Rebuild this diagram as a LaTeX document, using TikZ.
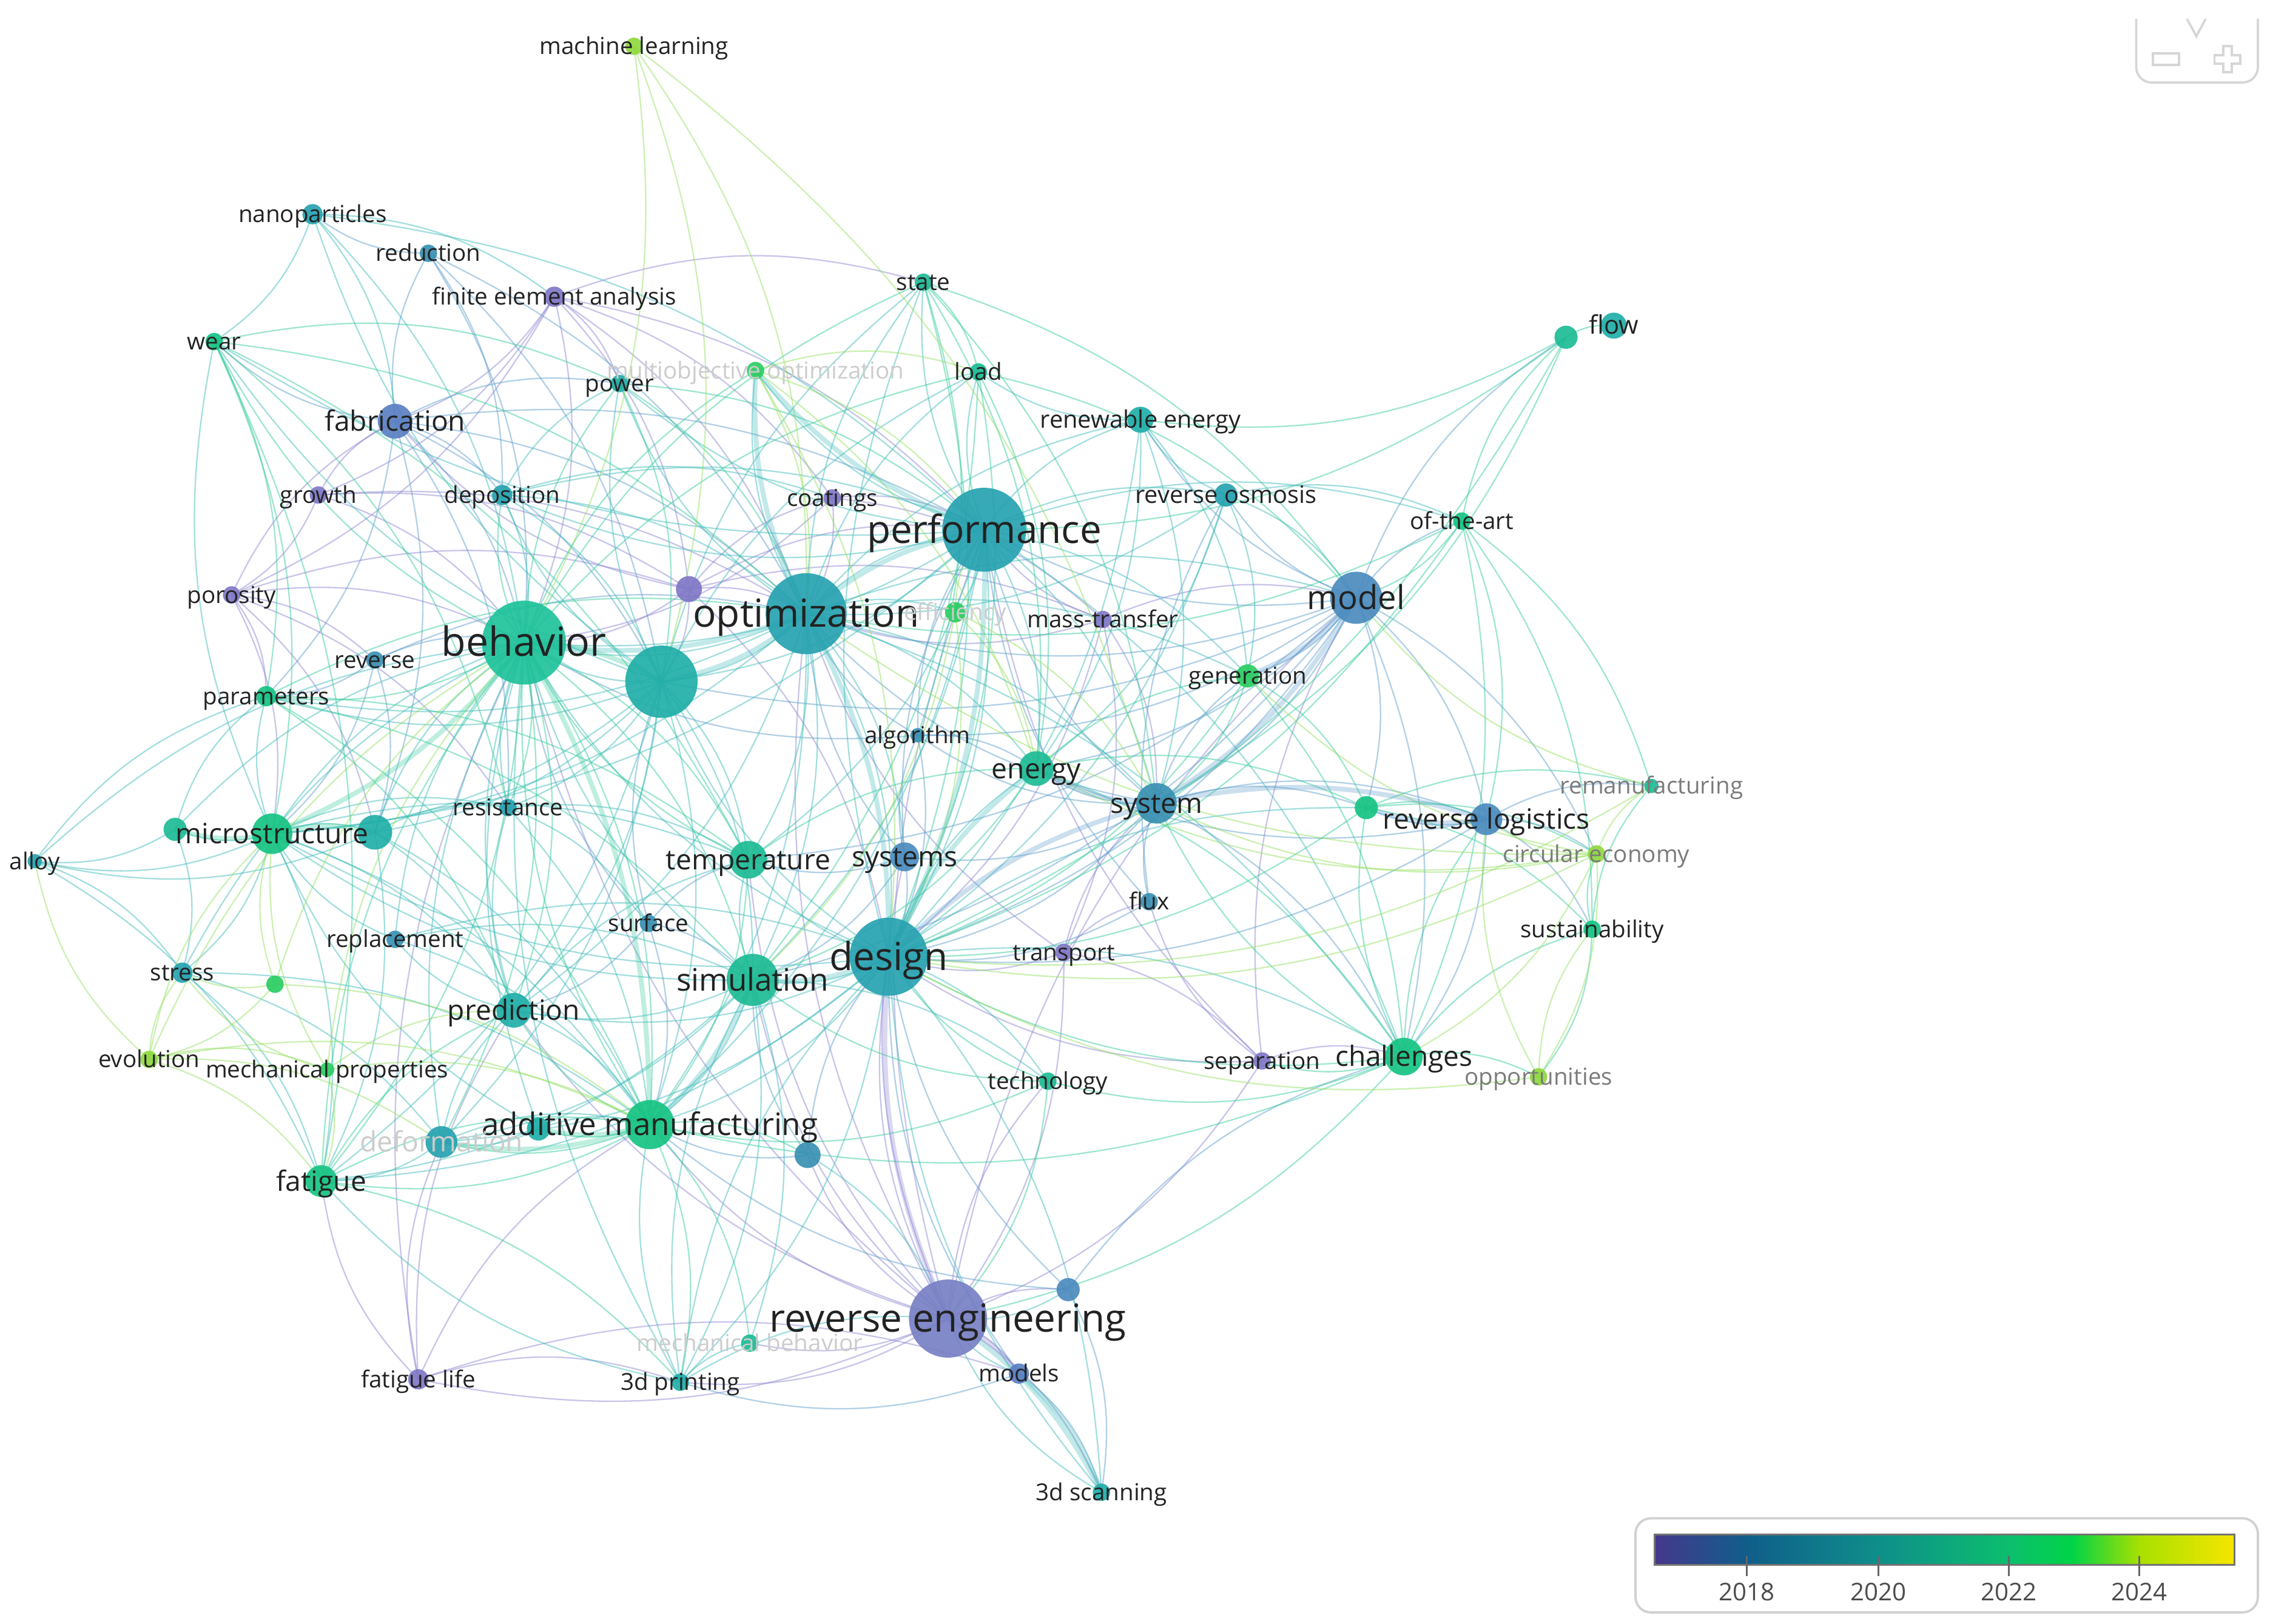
\documentclass[tikz,border=0pt]{standalone}
\usepackage{fontspec}
\setmainfont{Open Sans}
\definecolor{eP}{HTML}{8D86D2}
\definecolor{eB}{HTML}{5E9DCB}
\definecolor{eT}{HTML}{40BABA}
\definecolor{eG}{HTML}{34CB9C}
\definecolor{eL}{HTML}{95E060}
\definecolor{nP}{HTML}{8077C6}
\definecolor{nB1}{HTML}{5A7FC2}
\definecolor{nB2}{HTML}{4B8BBE}
\definecolor{nB3}{HTML}{3A90B2}
\definecolor{nT1}{HTML}{27A2B0}
\definecolor{nT2}{HTML}{21AEA8}
\definecolor{nG1}{HTML}{1DBB95}
\definecolor{nG2}{HTML}{16C383}
\definecolor{nG3}{HTML}{2ACD62}
\definecolor{nL}{HTML}{8FD83E}
\definecolor{nRE}{HTML}{7880C4}
\definecolor{nBeh}{HTML}{1EC29A}
\definecolor{ctrl}{HTML}{D6D6D6}
\definecolor{lbl}{HTML}{222222}
\tikzset{
  edge/.style={line width=0.55pt, opacity=0.48},
  tedge/.style={line width=1.9pt, opacity=0.32},
  dot/.style={circle, inner sep=0pt, draw=none, fill opacity=0.92},
  lab/.style={text=lbl, inner sep=0pt, anchor=base},
  lS/.style={lab, font=\fontsize{9.2}{10}\selectfont, yshift=-3.2pt},
  lM/.style={lab, font=\fontsize{11}{11}\selectfont, yshift=-3.85pt},
  lX/.style={lab, font=\fontsize{12.2}{12}\selectfont, yshift=-4.3pt},
  lXL/.style={lab, font=\fontsize{13}{13}\selectfont, yshift=-4.5pt},
  lL/.style={lab, font=\fontsize{15.2}{15}\selectfont, yshift=-5.3pt},
  fadeA/.style={text=black!52},
  fadeB/.style={text=black!20},
  ctrlline/.style={draw=ctrl, line width=0.9pt},
}
\begin{document}
\begin{tikzpicture}[x=0.02cm,y=-0.02cm]
\useasboundingbox (0,0) rectangle (1568.4,1122);
% ---------- keyword positions ----------
\foreach \n/\x/\y in {ml/438/32, nano/216/148, red/296/175, fea/383/205, wear/148/236,
  state/638/195, power/428/265, moo/522/256, load/676/257, flowa/1082/233, flow/1115/225,
  renew/788/290, fab/273/291, growth/220/342, depo/347/342, coat/575/344, ro/847/342,
  ota/1010/360, perf/680/366, poro/160/411, pu/476/407, opt/557/424, eff/660/423,
  mass/762/428, model/937/413, beh/362/444, rev/259/456, hub/457/471, param/184/481,
  gen/862/467, algo/634/508, energy/716/531, reman/1141/543, system/799/555,
  resist/351/558, rl/1027/566, rlm/944/558, ms/188/576, msl/121/573, msr/259/575,
  alloy/24/595, ce/1103/590, temp/517/594, systems/625/592, flux/794/623,
  sust/1100/642, surf/448/638, repl/273/649, design/614/661, transp/735/658,
  stress/126/672, sg/190/680, sim/520/677, pred/355/698, sep/872/733, chal/970/730,
  opp/1063/744, evol/103/732, mp/226/739, tech/724/747, am/449/777, aml/372/780,
  deform/305/789, dmg/558/798, fat/222/816, re/655/911, rer/738/891, mb/518/928,
  fl/289/953, print/470/955, models/704/949, scan/761/1031}
  \coordinate (\n) at (\x,\y);
% ---------- links ----------
\foreach \a/\b in {fea/fab, fea/growth, fea/poro, fea/perf, fea/opt, fea/pu, fea/coat, fea/beh, fea/power, fea/state,
  growth/fab, growth/poro, growth/beh, growth/pu, growth/opt,
  poro/beh, poro/param, poro/ms, poro/msr, poro/pu, poro/fab, poro/rev, poro/resist,
  pu/beh, pu/opt, pu/perf, pu/fab, pu/coat, pu/mass, pu/hub, pu/design,
  coat/perf, coat/opt, coat/beh, coat/mass,
  mass/perf, mass/model, mass/opt, mass/design, mass/system, mass/transp,
  transp/design, transp/flux, transp/sep, transp/system, transp/re, transp/opt,
  sep/chal, sep/design, sep/perf, sep/flux, sep/model, sep/re,
  re/design, re/sim, re/am, re/opt, re/beh, re/models, re/scan, re/rer, re/print, re/fl, re/tech,
  re/perf, re/model, re/pred, re/temp, re/dmg, re/mb, re/systems,
  fl/fat, fl/deform, fl/am, fl/beh, fl/pred, fl/print, fl/models}
  \draw[edge, eP] (\a) to[bend left=18] (\b);
\foreach \a/\b in {fab/beh, fab/hub, fab/opt, fab/perf, fab/depo, fab/param, fab/msr, fab/resist, fab/red, fab/wear, fab/power,
  red/nano, red/beh, red/depo, red/opt, red/hub,
  model/system, model/gen, model/design, model/perf, model/opt, model/energy, model/rl, model/rlm, model/chal,
  model/ota, model/flowa, model/sim, model/algo, model/ro, model/renew, model/hub, model/temp, model/ce,
  system/energy, system/design, system/rl, system/opt, system/perf, system/gen, system/rlm, system/chal, system/systems, system/algo,
  rl/rlm, rl/chal, rl/reman, rl/ce, rl/sust, rl/design, rl/energy,
  systems/design, systems/opt, systems/sim, systems/temp, systems/perf, systems/algo,
  algo/opt, algo/perf, algo/design, algo/energy, algo/beh,
  flux/design, flux/perf, flux/system, flux/ro,
  rev/beh, rev/param, rev/ms, rev/opt, rev/msr,
  surf/beh, surf/sim, surf/am, surf/pred, surf/temp, surf/hub,
  models/scan, models/print, models/design,
  rer/design, rer/chal, rer/am, rer/scan,
  dmg/am, dmg/design, dmg/sim}
  \draw[edge, eB] (\a) to[bend left=18] (\b);
\foreach \a/\b in {opt/perf, opt/beh, opt/hub, opt/design, opt/sim, opt/temp, opt/energy, opt/system, opt/model, opt/eff,
  opt/am, opt/pred, opt/ms, opt/param, opt/state, opt/load, opt/moo, opt/power, opt/renew, opt/gen, opt/chal, opt/systems,
  perf/beh, perf/hub, perf/design, perf/sim, perf/temp, perf/energy, perf/ro, perf/renew, perf/load, perf/state,
  perf/moo, perf/power, perf/gen, perf/eff, perf/ota, perf/system, perf/ms, perf/am, perf/chal, perf/depo, perf/wear,
  design/sim, design/am, design/beh, design/hub, design/temp, design/pred, design/energy, design/chal, design/scan,
  design/print, design/tech, design/ms, design/fat, design/deform, design/state, design/rlm,
  hub/beh, hub/sim, hub/am, hub/temp, hub/pred, hub/ms, hub/msr, hub/resist, hub/param, hub/fat, hub/deform,
  hub/power, hub/depo, hub/nano, hub/wear, hub/load, hub/state,
  sim/am, sim/temp, sim/pred, sim/beh, sim/ms, sim/fat, sim/deform, sim/print, sim/mb, sim/tech,
  ms/beh, ms/msl, ms/msr, ms/alloy, ms/param, ms/resist, ms/stress, ms/fat, ms/am, ms/pred, ms/temp, ms/wear,
  msr/beh, msr/resist, msr/am, msr/pred, msr/alloy, msr/fat,
  msl/alloy, msl/param, msl/stress, msl/beh,
  alloy/param, alloy/beh, alloy/stress, alloy/fat,
  stress/beh, stress/fat, stress/am, stress/deform,
  deform/am, deform/fat, deform/beh, deform/pred,
  pred/am, pred/beh, pred/temp, pred/repl, pred/resist,
  repl/beh, repl/am, repl/ms, repl/design, repl/sim,
  resist/beh, resist/temp, resist/am, resist/surf,
  print/am, print/sim, print/mb, print/re, print/design, print/fat, print/beh,
  scan/re, scan/design,
  nano/wear, nano/fea, nano/beh, nano/perf, nano/fab,
  depo/beh, depo/opt, depo/perf, depo/hub, depo/power, depo/coat,
  ro/renew, ro/model, ro/opt, ro/energy, ro/design, ro/gen, ro/ota,
  renew/energy, renew/gen, renew/system, renew/design, renew/load,
  aml/am, aml/beh, aml/deform, aml/ms, dmg/re, rer/re, models/re}
  \draw[edge, eT] (\a) to[bend left=18] (\b);
\foreach \a/\b in {beh/param, beh/wear, beh/am, beh/sim, beh/temp, beh/pred, beh/resist, beh/fat, beh/deform,
  beh/power, beh/depo, beh/moo, beh/state, beh/load,
  wear/param, wear/ms, wear/fat, wear/resist, wear/power, wear/opt, wear/temp,
  param/opt, param/am, param/sim, param/temp, param/pred,
  state/energy, state/model, state/design, state/load, state/system, state/algo,
  load/energy, load/design, load/model, load/sim,
  energy/gen, energy/rlm, energy/chal, energy/sim,
  gen/design, gen/chal, gen/rlm, gen/system,
  ota/model, ota/flowa, ota/chal, ota/rl, ota/reman, ota/sust, ota/design, ota/opt,
  flowa/flow, flowa/perf, flowa/design, flowa/system, flowa/renew,
  chal/rl, chal/rlm, chal/opp, chal/design, chal/system, chal/sust, chal/re, chal/am, chal/tech, chal/sep,
  rlm/rl, rlm/design, rlm/reman, rlm/ce, rlm/sust,
  sust/ce, sust/reman, sust/opp,
  am/aml, am/deform, am/fat, am/mb, am/print, am/dmg, am/pred, am/beh,
  power/opt, power/perf, power/hub,
  tech/design, tech/re, tech/am, tech/sim,
  fat/am, fat/beh, fat/pred, fat/print, temp/beh, temp/am, temp/energy}
  \draw[edge, eG] (\a) to[bend left=18] (\b);
\foreach \a/\b in {ml/beh, ml/hub, ml/system, ml/opt,
  moo/opt, moo/perf, moo/design, moo/load, moo/energy,
  eff/perf, eff/design, eff/energy, eff/system, eff/sim,
  ce/rl, ce/reman, ce/opp, ce/chal, ce/design, ce/system, ce/gen, ce/energy, ce/opt,
  opp/sust, opp/design, opp/rl,
  evol/ms, evol/stress, evol/mp, evol/beh, evol/am, evol/fat, evol/alloy, evol/deform,
  mp/ms, mp/am, mp/beh, mp/fat, mp/stress, mp/pred,
  sg/ms, sg/stress, sg/am, sg/beh, sg/evol,
  reman/model, reman/design}
  \draw[edge, eL] (\a) to[bend left=18] (\b);
\foreach \a/\b/\c in {opt/perf/eT, opt/beh/eT, opt/hub/eT, beh/hub/eG, design/sim/eT, design/system/eB,
  design/energy/eT, system/energy/eB, system/rl/eB, model/system/eB, model/gen/eB, re/design/eP,
  re/models/eP, models/scan/eT, beh/ms/eG, ms/msr/eG, ms/msl/eG, rl/rlm/eB, perf/design/eT,
  opt/design/eT, beh/am/eG, am/aml/eG, am/deform/eG, sim/am/eT, opt/moo/eT, perf/moo/eT, re/scan/eT}
  \draw[tedge, \c] (\a) to[bend left=14] (\b);
% ---------- keyword circles ----------
\foreach \n/\r/\c in {ml/6/nL, nano/7/nT1, red/6/nB3, fea/7/nP, wear/6/nG2, state/6/nG1, power/6/nT2,
  moo/6/nG3, load/6/nG1, flowa/8/nG1, flow/9/nT2, renew/9/nT2, fab/12/nB1, growth/6/nP, depo/7/nT1,
  coat/6/nP, ro/8/nT1, ota/6/nG2, poro/6/nP, pu/9/nP, eff/7/nG3, mass/6/nP, rev/6/nB3, param/7/nG2,
  gen/8/nG3, algo/5/nB3, energy/12/nG1, reman/5/nG1, system/14/nB3, resist/6/nT1, rl/11/nB2,
  rlm/8/nG2, msl/8/nG1, msr/12/nT2, ms/14/nG2, alloy/5/nT1, ce/6/nL, temp/13/nG1, systems/10/nB2,
  flux/6/nB3, sust/6/nG2, surf/6/nB3, repl/6/nB3, transp/6/nP, stress/7/nT1, sg/6/nG3,
  pred/12/nT2, sep/6/nP, chal/13/nG2, opp/6/nL, evol/6/nL, mp/5/nG3, tech/6/nG1, aml/8/nT2,
  deform/11/nT1, dmg/9/nB3, fat/11/nG2, rer/8/nB2, mb/6/nG1, fl/7/nP, print/6/nT2, models/7/nB1,
  scan/6/nT2, model/18/nB2, sim/18/nG1, am/17/nG2, hub/25/nT2, opt/28/nT1, perf/29/nT1,
  design/27/nT1, beh/29/nBeh, re/27/nRE}
  \node[dot, fill=\c, minimum size=\r*0.04cm] (\n-dot) at (\n) {};
% ---------- labels ----------
\node[lS] (l-ml) at (ml) {machine learning};
\node[lS] (l-nano) at (nano) {nanoparticles};
\node[lS] (l-red) at (red) {reduction};
\node[lS] (l-fea) at (fea) {finite element analysis};
\node[lS] (l-wear) at (wear) {wear};
\node[lS] (l-state) at (state) {state};
\node[lS] (l-power) at (power) {power};
\node[lS, fadeB] (l-moo) at (moo) {multiobjective optimization};
\node[lS] (l-load) at (load) {load};
\node[lS, font=\fontsize{10}{10}\selectfont] (l-flow) at (flow) {flow};
\node[lS, font=\fontsize{9.5}{10}\selectfont] (l-renew) at (renew) {renewable energy};
\node[lM] (l-fab) at (fab) {fabrication};
\node[lS] (l-growth) at (growth) {growth};
\node[lS] (l-depo) at (depo) {deposition};
\node[lS] (l-coat) at (coat) {coatings};
\node[lS, font=\fontsize{9.5}{10}\selectfont] (l-ro) at (ro) {reverse osmosis};
\node[lS] (l-ota) at (ota) {of-the-art};
\node[lL] (l-perf) at (perf) {performance};
\node[lS] (l-poro) at (poro) {porosity};
\node[lL] (l-opt) at (opt) {optimization};
\node[lS, fadeB] (l-eff) at (eff) {efficiency};
\node[lS] (l-mass) at (mass) {mass-transfer};
\node[lXL] (l-model) at (model) {model};
\node[lL, font=\fontsize{15.8}{16}\selectfont] (l-beh) at (beh) {behavior};
\node[lS] (l-rev) at (rev) {reverse};
\node[lS] (l-param) at (param) {parameters};
\node[lS] (l-gen) at (gen) {generation};
\node[lS] (l-algo) at (algo) {algorithm};
\node[lM] (l-energy) at (energy) {energy};
\node[lS, fadeA] (l-reman) at (reman) {remanufacturing};
\node[lM] (l-system) at (system) {system};
\node[lS] (l-resist) at (resist) {resistance};
\node[lM] (l-rl) at (rl) {reverse logistics};
\node[lM] (l-ms) at (ms) {microstructure};
\node[lS] (l-alloy) at (alloy) {alloy};
\node[lS, fadeA] (l-ce) at (ce) {circular economy};
\node[lM] (l-temp) at (temp) {temperature};
\node[lM] (l-systems) at (systems) {systems};
\node[lS] (l-flux) at (flux) {flux};
\node[lS] (l-sust) at (sust) {sustainability};
\node[lS] (l-surf) at (surf) {surface};
\node[lS] (l-repl) at (repl) {replacement};
\node[lL] (l-design) at (design) {design};
\node[lS] (l-transp) at (transp) {transport};
\node[lS] (l-stress) at (stress) {stress};
\node[lX] (l-sim) at (sim) {simulation};
\node[lM] (l-pred) at (pred) {prediction};
\node[lS] (l-sep) at (sep) {separation};
\node[lM] (l-chal) at (chal) {challenges};
\node[lS, fadeA] (l-opp) at (opp) {opportunities};
\node[lS] (l-evol) at (evol) {evolution};
\node[lS] (l-mp) at (mp) {mechanical properties};
\node[lS] (l-tech) at (tech) {technology};
\node[lX] (l-am) at (am) {additive manufacturing};
\node[lM, fadeB] (l-deform) at (deform) {deformation};
\node[lM] (l-fat) at (fat) {fatigue};
\node[lL] (l-re) at (re) {reverse engineering};
\node[lS, fadeB] (l-mb) at (mb) {mechanical behavior};
\node[lS] (l-fl) at (fl) {fatigue life};
\node[lS] (l-print) at (print) {3d printing};
\node[lS] (l-models) at (models) {models};
\node[lS] (l-scan) at (scan) {3d scanning};
% ---------- zoom control ----------
\draw[ctrlline, rounded corners=6pt] (1476,13) -- (1476,57) -- (1560,57) -- (1560,13);
\draw[ctrlline] (1487.5,37) rectangle (1505.5,45);
\draw[ctrlline] (1536,32) -- (1542,32) -- (1542,38) -- (1548,38) -- (1548,44) -- (1542,44) -- (1542,50)
  -- (1536,50) -- (1536,44) -- (1530,44) -- (1530,38) -- (1536,38) -- cycle;
\draw[ctrlline] (1511,13) -- (1517.5,25) -- (1524,13);
% ---------- legend ----------
\draw[draw=black!18, line width=0.9pt, rounded corners=6pt, fill=white] (1130,1049) rectangle (1560,1114);
\shade[left color={rgb,255:red,70;green,55;blue,140}, right color={rgb,255:red,16;green,94;blue,138}] (1143,1060) rectangle (1207.5,1081);
\shade[left color={rgb,255:red,16;green,94;blue,138}, right color={rgb,255:red,14;green,143;blue,138}] (1207,1060) rectangle (1298.5,1081);
\shade[left color={rgb,255:red,14;green,143;blue,138}, right color={rgb,255:red,12;green,190;blue,110}] (1298,1060) rectangle (1388.5,1081);
\shade[left color={rgb,255:red,12;green,190;blue,110}, right color={rgb,255:red,0;green,212;blue,70}] (1388,1060) rectangle (1432.5,1081);
\shade[left color={rgb,255:red,0;green,212;blue,70}, right color={rgb,255:red,168;green,224;blue,0}] (1432,1060) rectangle (1478.5,1081);
\shade[left color={rgb,255:red,168;green,224;blue,0}, right color={rgb,255:red,245;green,230;blue,0}] (1478,1060) rectangle (1544,1081);
\draw[black!55, line width=0.7pt] (1143,1060) rectangle (1544,1081);
\foreach \x/\t in {1207/2018, 1298/2020, 1388/2022, 1478/2024} {
  \draw[black!60, line width=0.7pt] (\x,1075) -- (\x,1089);
  \node[text=black!70, font=\fontsize{9.6}{10}\selectfont, inner sep=0pt] (yr\t) at (\x,1100) {\t};
}
\end{tikzpicture}
\end{document}
